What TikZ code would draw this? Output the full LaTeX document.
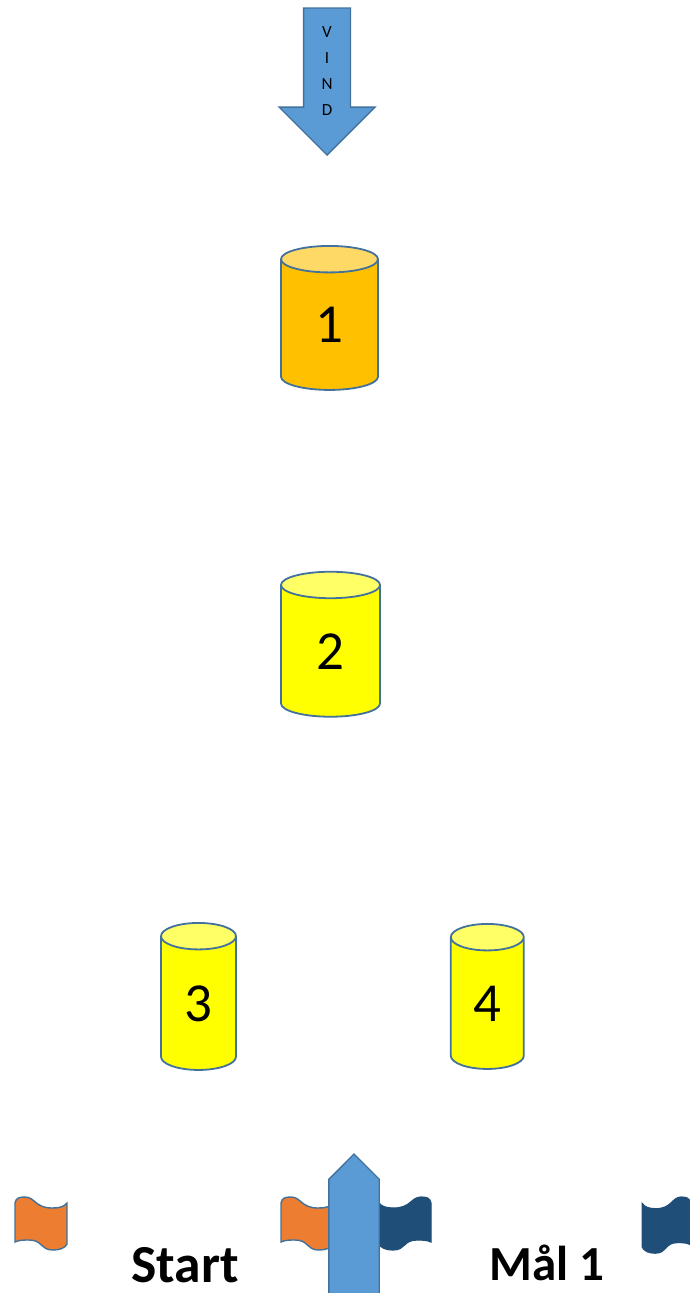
\documentclass[tikz,border=0pt]{standalone}
\usepackage{fontspec}
\setmainfont{Carlito}
\usetikzlibrary{positioning,shapes.geometric,shapes.arrows}

\definecolor{windblue}{HTML}{5B9BD5}
\definecolor{edgeblue}{HTML}{41719C}
\definecolor{flagorange}{HTML}{ED7D31}
\definecolor{flagnavy}{HTML}{1F4E79}
\definecolor{tankgold}{HTML}{FFC000}
\definecolor{tankgoldtop}{HTML}{FFD966}
\definecolor{tankyellow}{HTML}{FFFF00}
\definecolor{tankyellowtop}{HTML}{FFFF66}

\begin{document}
\begin{tikzpicture}[
    x=1pt, y=-1pt,
    tank/.style={cylinder, shape border rotate=90, aspect=0.95, draw=edgeblue, line width=1.8pt, inner sep=0pt,
        cylinder uses custom fill, cylinder body fill=tankyellow, cylinder end fill=tankyellowtop, font=\fontsize{55}{55}\selectfont},
    goldtank/.style={tank, cylinder body fill=tankgold, cylinder end fill=tankgoldtop},
    windarrow/.style={single arrow, draw=edgeblue, line width=1.4pt, fill=windblue, inner sep=0pt, anchor=tip,
        single arrow head indent=0pt},
    windtext/.style={align=center, inner sep=0pt, font=\fontsize{17}{26}\selectfont},
    caption/.style={font=\fontsize{53.5}{53.5}\selectfont\bfseries, inner sep=0pt},
    orangeflag/.style={fill=flagorange, draw=edgeblue, line width=1.4pt},
    navyflag/.style={fill=flagnavy, draw=flagnavy, line width=1.2pt},
    flag/.pic={
        \path[pic actions] (0,6) .. controls (1,1) and (4,0) .. (10,0) .. controls (20,0) and (20,11) .. (37,11)
            .. controls (44,11) and (49,10) .. (52,6) -- (52,47) .. controls (50,51) and (45,53) .. (38,53)
            .. controls (25,53) and (28,43) .. (14,43) .. controls (9,43) and (4,43) .. (0,45) -- cycle;
    }
]
    \useasboundingbox (0,0) rectangle (689,1293);

    \node[windarrow, shape border rotate=270, text width=45.5pt, minimum height=147pt, single arrow head extend=24.5pt] (vind) at (327,156) {};
    \node[windtext] (vindtext) at (327,71) {V\\I\\N\\D};

    \node[goldtank, minimum width=97pt, minimum height=144pt] (tankone) at (329.5,325) {1};
    \node[tank, minimum width=99pt, minimum height=145pt, below=180pt of tankone, xshift=1pt] (tanktwo) {2};
    \node[tank, minimum width=75pt, minimum height=147pt] (tankthree) at (198.5,1003.5) {3};
    \node[tank, minimum width=73pt, minimum height=145pt, right=213pt of tankthree] (tankfour) {4};

    \pic[orangeflag] (startleft) at (15,1197) {flag};
    \pic[orangeflag] (startright) at (281,1197) {flag};
    \pic[navyflag, xscale=-1] (goalleft) at (431,1197) {flag};
    \pic[navyflag, xscale=-0.93, yscale=1.06] (goalright) at (690.5,1197) {flag};

    \node[windarrow, shape border rotate=90, text width=49pt, minimum height=140pt, single arrow head extend=0pt] (course) at (354,1153) {};

    \node[caption] (start) at (185,1265) {Start};
    \node[caption, font=\fontsize{49}{49}\selectfont\bfseries] (goal) at (547,1263) {Mål 1};
\end{tikzpicture}
\end{document}
